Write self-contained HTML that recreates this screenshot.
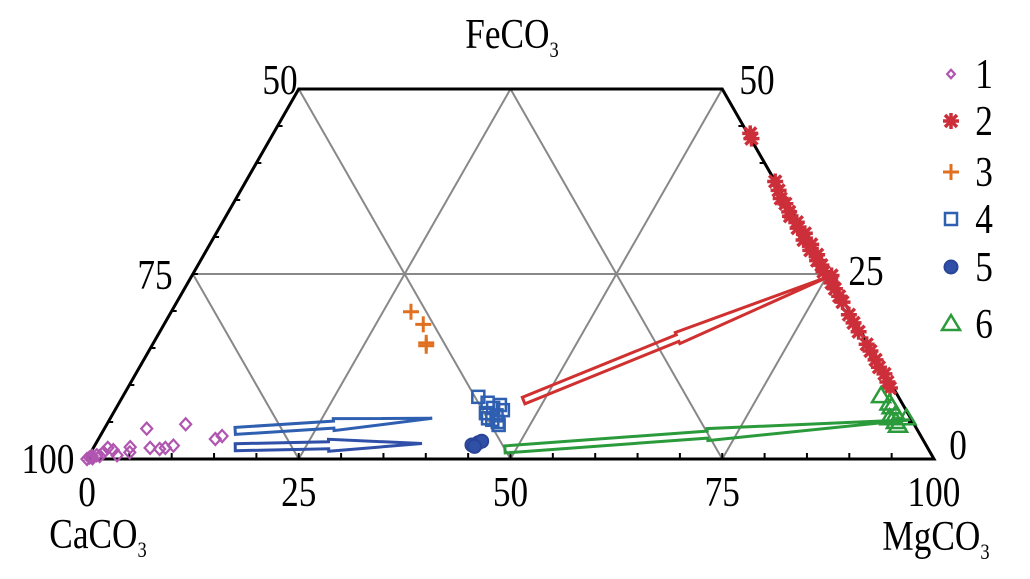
<!DOCTYPE html>
<html><head><meta charset="utf-8">
<style>
html,body{margin:0;padding:0;background:#fff;}
svg{display:block;}
text{font-family:"Liberation Serif",serif;fill:#000;}
</style></head>
<body>
<svg id="chart" width="1030" height="579" viewBox="0 0 1030 579" xmlns="http://www.w3.org/2000/svg">
<g id="grid"></g>
<g id="frame"></g>
<g id="arrows"></g>
<g id="points"></g>
<g id="labels"></g>
<g id="legend"></g>
</svg>
<script>
// data as [MgCO3 %, FeCO3 %]
const group1 = [[0,0],[0.4,0.4],[0.9,0.5],[1.3,0.4],[1.5,0.9],[1.7,1.5],[2.5,1.2],[3.3,0.5],[4.3,1.6],[4.6,0.9],[5.0,4.1],[6.7,1.5],[7.9,1.35],[8.5,1.5],[9.3,1.8],[9.3,4.7],[13.8,2.7],[14.4,3.1],[0.2,0.2],[0.6,0.1]];
const group2 = [[56.3,44],[56.8,43.3],[62.5,37.5],[63.5,36.3],[64.3,35.2],[65.2,34.5],[66.2,33.4],[66.6,32.8],[67.8,32.0],[68.3,31.2],[69.5,30.5],[69.8,29.6],[71.0,29.0],[71.3,28.2],[72.4,27.6],[72.8,26.8],[73.6,26.2],[74.3,25.3],[75.5,24.8],[76.0,23.8],[76.8,23.0],[77.8,22.0],[78.6,21.2],[80.2,19.5],[81.3,18.4],[82.5,17.2],[84.3,15.5],[85.2,14.6],[86.4,13.4],[87.3,12.4],[88.4,11.5],[89.3,10.4],[90.0,9.6]];
const group3 = [[28.3,19.9],[30.6,18.2],[32.2,15.7],[32.4,15.3]];
const group4 = [[42.0,8.4],[43.5,7.6],[44.5,6.9],[45.4,5.9],[44.6,5.5],[46.3,4.6],[45.2,5.3],[45.1,7.3],[44.0,6.2],[45.8,6.6],[46.0,5.0]];
const group5 = [[44.5,1.9],[45.1,2.2],[45.4,2.4],[44.9,1.7]];
const group6 = [[89.5,8.5],[91.5,7],[92.5,6],[93,5],[93.5,4.5],[92,5.5],[91,7.5],[94,5.5]];
// arrows: [tailMg, tailFe, tipMg, tipFe]
const arrowsData = [
  {c:'#d03030', v:[47.6,7.9, 75.5,24.8]},
  {c:'#2a9a3a', v:[48.7,1.3, 94.5,5.3]},
  {c:'#2f5fb0', v:[15.6,3.8, 38.0,5.5]},
  {c:'#2f4fa8', v:[16.7,1.6, 38.5,2.1]}
];
const bottomTicks = ['0','25','50','75','100'];

const NS='http://www.w3.org/2000/svg';
const X0=87, W=847, H=7.4;
function px(mg,fe){return X0+W/100*(mg+fe/2);}
function py(fe){return 459-H*fe;}
function mk(tag,attrs,parent){const e=document.createElementNS(NS,tag);for(const k in attrs)e.setAttribute(k,attrs[k]);parent.appendChild(e);return e;}

const grid=document.getElementById('grid');
function gline(a,b){
  const l=mk('line',{x1:px(a[0],a[1]),y1:py(a[1]),x2:px(b[0],b[1]),y2:py(b[1]),stroke:'#888','stroke-width':2},grid);
  
  
}
gline([0,25],[75,25]);
[25,50,75].forEach(m=>{ const fe=Math.min(50,100-m); gline([m,0],[m,fe]); });
[25,50,75].forEach(c=>{ const mg0=100-c; const fe=Math.min(50,mg0); gline([mg0,0],[mg0-fe,fe]); });

const frame=document.getElementById('frame');
const fp=mk('polygon',{points:[[0,0],[100,0],[50,50],[0,50]].map(p=>px(p[0],p[1])+','+py(p[1])).join(' '),fill:'none',stroke:'#000','stroke-width':3},frame);


for(let t=5;t<100;t+=5){
  const x=px(t,0);
  const tk=mk('line',{x1:x,y1:459,x2:x,y2:453,stroke:'#000','stroke-width':2},frame);
  
  
}
for(let f=5;f<50;f+=5){
  const a=mk('line',{x1:px(0,f),y1:py(f),x2:px(0,f)+5,y2:py(f),stroke:'#000','stroke-width':2},frame);
  
  
  const b=mk('line',{x1:px(100-f,f),y1:py(f),x2:px(100-f,f)-5,y2:py(f),stroke:'#000','stroke-width':2},frame);
  
  
}

const ag=document.getElementById('arrows');
arrowsData.forEach(a=>{
  const x1=px(a.v[0],a.v[1]),y1=py(a.v[1]),x2=px(a.v[2],a.v[3]),y2=py(a.v[3]);
  const dx=x2-x1,dy=y2-y1,L=Math.hypot(dx,dy),ux=dx/L,uy=dy/L,nx=-uy,ny=ux;
  const w1=3.5,w2=6,m=0.5;
  const mx=x1+dx*m,my=y1+dy*m;
  const pts=[[x1+nx*w1,y1+ny*w1],[mx+nx*w1,my+ny*w1],[mx+nx*w2,my+ny*w2],[x2,y2],[mx-nx*w2,my-ny*w2],[mx-nx*w1,my-ny*w1],[x1-nx*w1,y1-ny*w1]];
  const p=mk('polygon',{points:pts.map(q=>q[0].toFixed(1)+','+q[1].toFixed(1)).join(' '),fill:'none',stroke:a.c,'stroke-width':3},ag);
  
  
});

const pg=document.getElementById('points');
function marker(type,x,y,parent,s){
  s=s||1;
  let e;
  if(type==1){e=mk('polygon',{points:`${x},${y-6*s} ${x+5.5*s},${y} ${x},${y+6*s} ${x-5.5*s},${y}`,fill:'none',stroke:'#b055b0','stroke-width':2.2},parent);}
  else if(type==2){e=mk('g',{stroke:'#cc2f3a','stroke-width':3.5,'stroke-linecap':'butt'},parent);
    mk('line',{x1:x-8,y1:y,x2:x+8,y2:y},e);mk('line',{x1:x,y1:y-8,x2:x,y2:y+8},e);
    mk('line',{x1:x-6,y1:y-6,x2:x+6,y2:y+6},e);mk('line',{x1:x-6,y1:y+6,x2:x+6,y2:y-6},e);}
  else if(type==3){e=mk('g',{stroke:'#e07020','stroke-width':3},parent);
    mk('line',{x1:x-8,y1:y,x2:x+8,y2:y},e);mk('line',{x1:x,y1:y-8,x2:x,y2:y+8},e);}
  else if(type==4){e=mk('rect',{x:x-6,y:y-6,width:12,height:12,fill:'none',stroke:'#2f5fb0','stroke-width':2.5},parent);}
  else if(type==5){e=mk('circle',{cx:x,cy:y,r:6.5,fill:'#3050a8',stroke:'#2a4598','stroke-width':2},parent);}
  else {e=mk('polygon',{points:`${x},${y-9} ${x+9},${y+6} ${x-9},${y+6}`,fill:'none',stroke:'#2a9a3a','stroke-width':2.5},parent);}
  return e;
}
[group1,group2,group3,group4,group5,group6].forEach((g,i)=>{
  g.forEach(d=>{
    const e=marker(i+1,px(d[0],d[1]),py(d[1]),pg);
    
    
  });
});

const lg=document.getElementById('labels');
function txt(s,x,y,anchor,size,parent,name){
  const t=mk('text',{x:0,y:0,'text-anchor':anchor,'font-size':size,transform:`translate(${x},${y}) scale(0.84,1)`},parent);
  t.innerHTML=s;
  
  
  return t;
}
const FS=42;
bottomTicks.forEach((s,i)=>txt(s,px(i*25,0),506,'middle',FS,lg,'bottom-tick-label'));
txt('50',280,94,'middle',FS,lg,'left-tick-label-50');
txt('75',155,289,'middle',FS,lg,'left-tick-label-75');
txt('100',48,473,'middle',FS,lg,'left-tick-label-100');
txt('50',757,94,'middle',FS,lg,'right-tick-label-50');
txt('25',866,285,'middle',FS,lg,'right-tick-label-25');
txt('0',958,459,'middle',FS,lg,'right-tick-label-0');
txt('FeCO<tspan font-size="22" dy="9">3</tspan>',512,48,'middle',FS,lg,'top-axis-title');
txt('CaCO<tspan font-size="22" dy="9">3</tspan>',98,548,'middle',FS,lg,'left-axis-title');
txt('MgCO<tspan font-size="22" dy="9">3</tspan>',936,550,'middle',FS,lg,'right-axis-title');

const leg=document.getElementById('legend');
const legY=[75,122,173,220,268,325];
legY.forEach((y,i)=>{
  const g=mk('g',{},leg);
  
  
  marker(i+1,951,y-1,g,0.7);
  txt(String(i+1),984,y+13,'middle',FS,g,'legend-label');
});
</script>
</body></html>
